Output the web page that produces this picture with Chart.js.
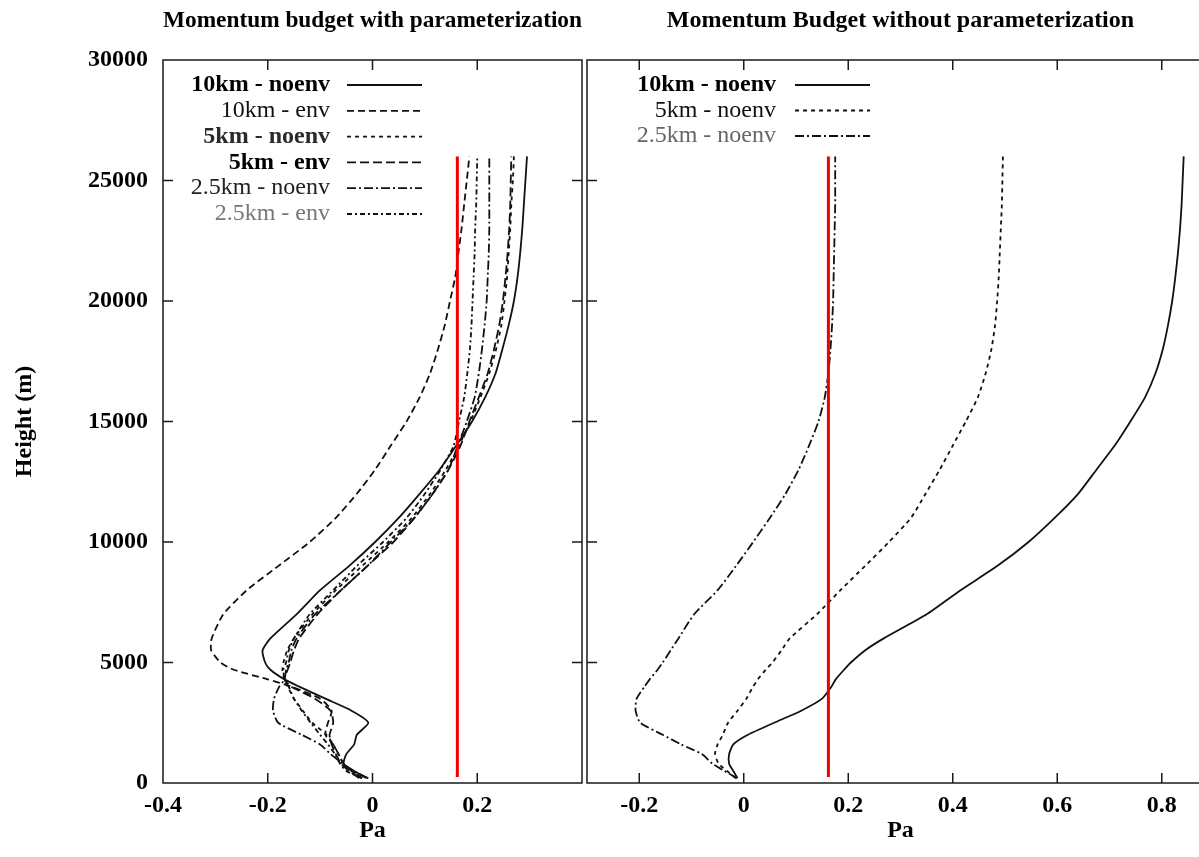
<!DOCTYPE html>
<html>
<head>
<meta charset="utf-8">
<script src="https://cdn.jsdelivr.net/npm/chart.js@4.4.1/dist/chart.umd.min.js"></script>
<style>
  html, body { margin: 0; padding: 0; background: #fff; overflow: hidden; }
  #wrap { position: relative; width: 1199px; height: 857px; overflow: hidden; background: #fff; }
  #left { position: absolute; left: 0; top: 0; }
  #right { position: absolute; left: 584px; top: 0; }
</style>
</head>
<body>
<div id="wrap">
  <canvas id="left" width="585" height="857"></canvas>
  <canvas id="right" width="640" height="857"></canvas>
</div>
<script>
// heights (m) shared by every profile
const heights = [200, 500, 800, 1200, 1600, 2000, 2500, 3000, 3500, 4000,
  4300, 4700, 5000, 5500, 6000, 7000, 8000, 9000, 10000, 11000,
  12000, 13000, 14000, 15000, 16000, 17000, 18000, 19000, 20000, 21000,
  22000, 23000, 24000, 25000, 26000]

// left panel: with parameterization (Pa)
const labelsWith = ['10km - noenv', '10km - env', '5km - noenv', '5km - env', '2.5km - noenv', '2.5km - env']
const w10noenv = [-0.008, -0.035, -0.055, -0.05, -0.035, -0.03, -0.008, -0.04, -0.09, -0.14,
  -0.168, -0.195, -0.205, -0.21, -0.195, -0.145, -0.10, -0.045, 0.005, 0.05,
  0.09, 0.128, 0.16, 0.19, 0.215, 0.235, 0.248, 0.26, 0.27, 0.277,
  0.282, 0.286, 0.289, 0.292, 0.295]
const w10env = [-0.02, -0.04, -0.055, -0.065, -0.075, -0.09, -0.085, -0.078, -0.1, -0.155,
  -0.2, -0.265, -0.29, -0.308, -0.307, -0.285, -0.24, -0.18, -0.12, -0.07,
  -0.03, 0.005, 0.035, 0.065, 0.09, 0.11, 0.125, 0.138, 0.148, 0.158,
  0.164, 0.17, 0.175, 0.18, 0.185]
const w5noenv = [-0.02, -0.04, -0.055, -0.065, -0.075, -0.088, -0.115, -0.133, -0.15, -0.162,
  -0.168, -0.172, -0.17, -0.163, -0.15, -0.115, -0.07, -0.02, 0.03, 0.075,
  0.11, 0.14, 0.165, 0.187, 0.206, 0.223, 0.236, 0.246, 0.252, 0.257,
  0.26, 0.263, 0.265, 0.268, 0.27]
const w5env = [-0.025, -0.045, -0.06, -0.07, -0.078, -0.082, -0.075, -0.08, -0.11, -0.155,
  -0.168, -0.162, -0.157, -0.15, -0.14, -0.105, -0.06, -0.01, 0.04, 0.08,
  0.115, 0.145, 0.168, 0.185, 0.203, 0.22, 0.232, 0.242, 0.249, 0.254,
  0.258, 0.261, 0.263, 0.264, 0.265]
const w25noenv = [-0.011, -0.037, -0.057, -0.08, -0.1, -0.135, -0.18, -0.19, -0.188, -0.178,
  -0.168, -0.165, -0.16, -0.155, -0.145, -0.11, -0.06, -0.01, 0.035, 0.08,
  0.115, 0.145, 0.163, 0.18, 0.195, 0.203, 0.209, 0.214, 0.218, 0.22,
  0.222, 0.223, 0.223, 0.223, 0.223]
const w25env = [-0.02, -0.05, -0.062, -0.072, -0.085, -0.1, -0.118, -0.135, -0.15, -0.16,
  -0.168, -0.17, -0.165, -0.16, -0.15, -0.12, -0.075, -0.03, 0.02, 0.065,
  0.1, 0.13, 0.155, 0.165, 0.175, 0.181, 0.186, 0.189, 0.191, 0.193,
  0.195, 0.196, 0.198, 0.199, 0.2]

// right panel: without parameterization (Pa)
const labelsWithout = ['10km - noenv', '5km - noenv', '2.5km - noenv']
const n10noenv = [-0.012, -0.02, -0.028, -0.028, -0.02, 0.008, 0.058, 0.11, 0.15, 0.168,
  0.176, 0.192, 0.205, 0.232, 0.268, 0.35, 0.415, 0.485, 0.545, 0.595,
  0.64, 0.675, 0.71, 0.74, 0.768, 0.788, 0.802, 0.812, 0.82, 0.826,
  0.831, 0.835, 0.838, 0.84, 0.842]
const n5noenv = [-0.015, -0.032, -0.048, -0.055, -0.05, -0.04, -0.03, -0.012, 0.005, 0.018,
  0.027, 0.042, 0.055, 0.072, 0.088, 0.14, 0.185, 0.232, 0.278, 0.32,
  0.348, 0.375, 0.4, 0.425, 0.448, 0.463, 0.474, 0.481, 0.485, 0.488,
  0.49, 0.492, 0.494, 0.495, 0.496]
const n25noenv = [-0.013, -0.037, -0.06, -0.08, -0.12, -0.155, -0.198, -0.207, -0.205, -0.19,
  -0.18, -0.165, -0.155, -0.14, -0.125, -0.095, -0.05, -0.015, 0.018, 0.05,
  0.08, 0.105, 0.125, 0.143, 0.155, 0.162, 0.166, 0.169, 0.171, 0.172,
  0.173, 0.174, 0.175, 0.175, 0.175]

// red reference line
const refX = 0.162
const refHeights = [250, 26000]

// axes
const yTicks = [0, 5000, 10000, 15000, 20000, 25000, 30000]
const xTicksLeft = [-0.4, -0.2, 0, 0.2]
const xTicksRight = [-0.2, 0, 0.2, 0.4, 0.6, 0.8]

// line looks
const dashesWith = [[], [7, 4], [4, 4], [9, 4], [9, 3, 2, 3], [5, 3, 2, 3]]
const keyWeightWith = ['bold', 'normal', 'bold', 'bold', 'normal', 'normal']
const keyColorWith = ['#000', '#111', '#2a2a2a', '#000', '#222', '#777']
const dashesWithout = [[], [4, 4], [9, 3, 2, 3]]
const keyWeightWithout = ['bold', 'normal', 'normal']
const keyColorWithout = ['#000', '#111', '#666']

const FONT = "'Liberation Serif', 'Times New Roman', serif"
Chart.defaults.font.family = FONT
Chart.defaults.font.size = 24
Chart.defaults.color = '#000'

function profile(xs) {
  return xs.map((v, i) => ({ x: v, y: heights[i] }))
}

function buildSets(labels, series, dashes, weights, colors) {
  const sets = series.map((xs, i) => ({
    label: labels[i],
    data: profile(xs),
    borderColor: '#111',
    borderWidth: 1.8,
    borderDash: dashes[i],
    pointRadius: 0,
    tension: 0.2,
    keyWeight: weights[i],
    keyColor: colors[i]
  }))
  sets.push({
    label: 'ref',
    data: refHeights.map(h => ({ x: refX, y: h })),
    borderColor: '#ee0000',
    borderWidth: 3,
    pointRadius: 0,
    order: -1,
    noKey: true
  })
  return sets
}

// gnuplot-like frame with inward tick marks on all four sides
const frameTicks = {
  id: 'frameTicks',
  afterDatasetsDraw(chart) {
    const { ctx, chartArea: a, scales: { x, y } } = chart
    ctx.save()
    ctx.strokeStyle = '#1a1a1a'
    ctx.lineWidth = 1.5
    ctx.strokeRect(a.left, a.top, a.width, a.height)
    ctx.beginPath()
    x.ticks.forEach(t => {
      const px = x.getPixelForValue(t.value)
      if (px <= a.left + 1 || px >= a.right - 1) return
      ctx.moveTo(px, a.bottom); ctx.lineTo(px, a.bottom - 10)
      ctx.moveTo(px, a.top); ctx.lineTo(px, a.top + 10)
    })
    yTicks.forEach(v => {
      const py = y.getPixelForValue(v)
      if (py <= a.top + 1 || py >= a.bottom - 1) return
      ctx.moveTo(a.left, py); ctx.lineTo(a.left + 10, py)
      ctx.moveTo(a.right, py); ctx.lineTo(a.right - 10, py)
    })
    ctx.stroke()
    ctx.restore()
  }
}

// key: right aligned text, then a line sample
const keyBox = {
  id: 'keyBox',
  afterDatasetsDraw(chart, args, o) {
    const ctx = chart.ctx
    ctx.save()
    let row = 0
    chart.data.datasets.forEach(ds => {
      if (ds.noKey) return
      const yy = o.top + row * o.step
      ctx.font = ds.keyWeight + ' 24px ' + FONT
      ctx.fillStyle = ds.keyColor
      ctx.textAlign = 'right'
      ctx.textBaseline = 'middle'
      ctx.fillText(ds.label, o.textRight, yy)
      ctx.strokeStyle = '#111'
      ctx.lineWidth = 1.8
      ctx.setLineDash(ds.borderDash || [])
      ctx.beginPath()
      ctx.moveTo(o.lineFrom, yy)
      ctx.lineTo(o.lineTo, yy)
      ctx.stroke()
      row++
    })
    ctx.restore()
  }
}

function panelOptions(xMin, xMax, xTicks, title, showY, pad, key) {
  return {
    responsive: false,
    animation: false,
    events: [],
    layout: { padding: pad },
    plugins: {
      legend: { display: false },
      tooltip: { enabled: false },
      title: {
        display: true, text: title, fullSize: false, color: '#000',
        font: { size: 24, weight: 'bold' },
        padding: { top: 6, bottom: 25.2 }
      },
      keyBox: key
    },
    scales: {
      x: {
        type: 'linear', min: xMin, max: xMax,
        afterBuildTicks: s => { s.ticks = xTicks.map(v => ({ value: v })) },
        afterFit: s => { s.height = 74 },
        grid: { display: false, drawTicks: false },
        border: { display: false },
        ticks: { padding: 8.5, font: { weight: 'bold' }, callback: v => String(v) },
        title: { display: true, text: 'Pa', font: { weight: 'bold' }, padding: { top: 0, bottom: 11.5 } }
      },
      y: {
        type: 'linear', min: 0, max: 30000, display: showY,
        afterBuildTicks: s => { s.ticks = yTicks.map(v => ({ value: v })) },
        afterFit: s => { s.width = showY ? 163 : 0 },
        grid: { display: false, drawTicks: false },
        border: { display: false },
        ticks: { padding: 15, font: { weight: 'bold' }, callback: v => String(v) },
        title: { display: true, text: 'Height (m)', font: { weight: 'bold' }, padding: { top: 10.6, bottom: 0 } }
      }
    }
  }
}

new Chart(document.getElementById('left'), {
  type: 'line',
  data: { datasets: buildSets(labelsWith, [w10noenv, w10env, w5noenv, w5env, w25noenv, w25env], dashesWith, keyWeightWith, keyColorWith) },
  options: panelOptions(-0.4, 0.4, xTicksLeft, 'Momentum budget with parameterization', true,
    { left: 0, right: 3, top: 0, bottom: 0 },
    { top: 85, step: 25.8, textRight: 330, lineFrom: 347, lineTo: 422 }),
  plugins: [frameTicks, keyBox]
})

new Chart(document.getElementById('right'), {
  type: 'line',
  data: { datasets: buildSets(labelsWithout, [n10noenv, n5noenv, n25noenv], dashesWithout, keyWeightWithout, keyColorWithout) },
  options: panelOptions(-0.3, 0.9, xTicksRight, 'Momentum Budget without parameterization', false,
    { left: 3, right: 10, top: 0, bottom: 0 },
    { top: 85, step: 25.5, textRight: 192, lineFrom: 211, lineTo: 286 }),
  plugins: [frameTicks, keyBox]
})
</script>
</body>
</html>
